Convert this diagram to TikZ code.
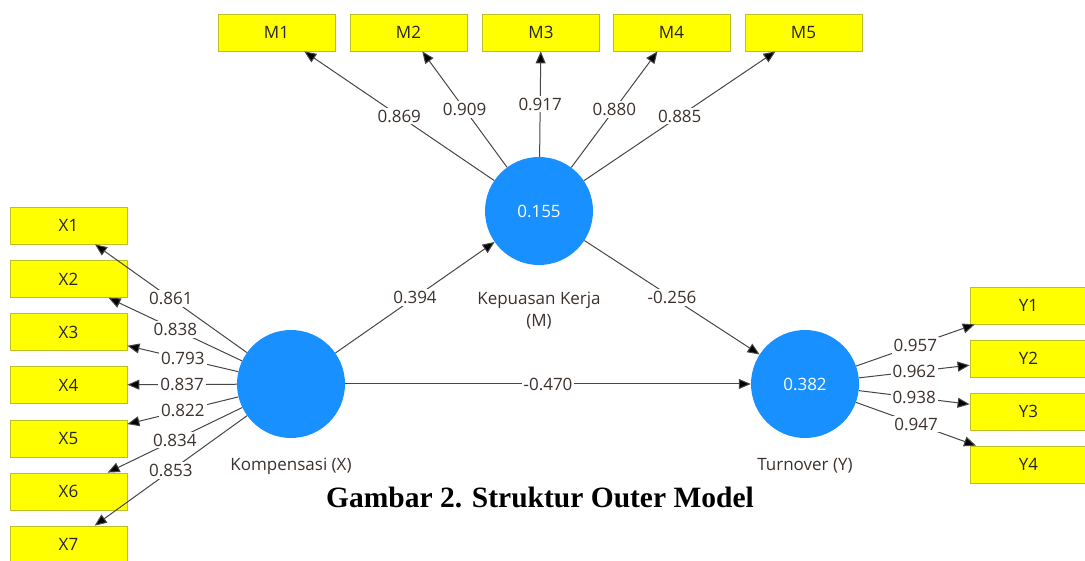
\documentclass[tikz,border=0pt]{standalone}
\usepackage{fontspec}
\setmainfont{Open Sans}
\newfontfamily\titlefont{Liberation Serif}
\usetikzlibrary{arrows.meta}
\definecolor{circblue}{RGB}{24,144,255}
\definecolor{boxyellow}{RGB}{255,255,0}
\definecolor{boxedge}{RGB}{190,190,40}
\definecolor{lblcol}{RGB}{60,50,45}
\definecolor{linecol}{RGB}{70,70,70}
\tikzset{
  ind/.style={rectangle, fill=boxyellow, draw=boxedge, line width=0.8pt,
    minimum width=117pt, minimum height=37pt, inner sep=0pt,
    font=\fontsize{17}{19}\selectfont, text=black!85},
  lv/.style={circle, fill=circblue, draw=none, minimum size=108pt, inner sep=0pt,
    font=\fontsize{17}{19}\selectfont, text=white},
  arr/.style={draw=linecol, line width=1pt, -{Triangle[length=12pt,width=10pt,fill=black]}},
  lbl/.style={fill=white, inner sep=2pt, font=\fontsize{17}{19}\selectfont, text=lblcol},
  lvname/.style={font=\fontsize{17}{19}\selectfont, text=lblcol, inner sep=0pt}
}
\begin{document}
\begin{tikzpicture}[x=1pt,y=-1pt]
\useasboundingbox (0,0) rectangle (1085,561);
\clip (0,0) rectangle (1085,561);
% indicators
\node[ind] (X1) at (68.5,225.5) {X1};
\node[ind] (X2) at (68.5,279) {X2};
\node[ind] (X3) at (68.5,332) {X3};
\node[ind] (X4) at (68.5,385) {X4};
\node[ind] (X5) at (68.5,438.5) {X5};
\node[ind] (X6) at (68.5,491.5) {X6};
\node[ind] (X7) at (68.5,544.5) {X7};
\node[ind] (M1) at (276.5,32.5) {M1};
\node[ind] (M2) at (408.5,32.5) {M2};
\node[ind] (M3) at (541,32.5) {M3};
\node[ind] (M4) at (671.5,32.5) {M4};
\node[ind] (M5) at (803.5,32.5) {M5};
\node[ind] (Y1) at (1028.5,305.5) {Y1};
\node[ind] (Y2) at (1028.5,358.5) {Y2};
\node[ind] (Y3) at (1028.5,411.5) {Y3};
\node[ind] (Y4) at (1028.5,464.5) {Y4};
% latent variables
\node[lv] (X) at (291,384) {};
\node[lv] (M) at (539,211) {0.155};
\node[lv] (Y) at (805,384) {0.382};
\node[lvname] (Xc) at (291,466) {Kompensasi (X)};
\node[lvname] (Mc1) at (539,300) {Kepuasan Kerja};
\node[lvname] (Mc2) at (539,322) {(M)};
\node[lvname] (Yc) at (805,466) {Turnover (Y)};
% outer loadings
\draw[arr] (X) -- node[lbl]{0.861} (X1);
\draw[arr] (X) -- node[lbl]{0.838} (X2);
\draw[arr] (X) -- node[lbl]{0.793} (X3);
\draw[arr] (X) -- node[lbl]{0.837} (X4);
\draw[arr] (X) -- node[lbl]{0.822} (X5);
\draw[arr] (X) -- node[lbl]{0.834} (X6);
\draw[arr] (X) -- node[lbl]{0.853} (X7);
\draw[arr] (M) -- node[lbl]{0.869} (M1);
\draw[arr] (M) -- node[lbl]{0.909} (M2);
\draw[arr] (M) -- node[lbl]{0.917} (M3);
\draw[arr] (M) -- node[lbl]{0.880} (M4);
\draw[arr] (M) -- node[lbl]{0.885} (M5);
\draw[arr] (Y) -- node[lbl]{0.957} (Y1);
\draw[arr] (Y) -- node[lbl]{0.962} (Y2);
\draw[arr] (Y) -- node[lbl]{0.938} (Y3);
\draw[arr] (Y) -- node[lbl]{0.947} (Y4);
% inner model
\draw[arr] (X) -- node[lbl]{0.394} (M);
\draw[arr] (M) -- node[lbl]{-0.256} (Y);
\draw[arr] (X) -- node[lbl]{-0.470} (Y);
% title
\node[font=\titlefont\bfseries\fontsize{29.5}{32}\selectfont, inner sep=0pt] (title) at (540,497) {Gambar 2. Struktur Outer Model};
\end{tikzpicture}
\end{document}
